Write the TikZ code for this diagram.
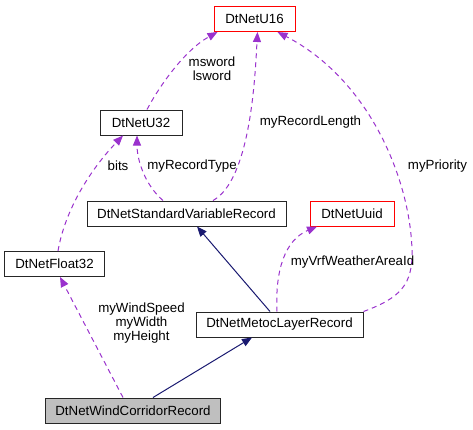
\documentclass[tikz,border=0pt]{standalone}
\usepackage{fontspec}
\setmainfont{Liberation Sans}
\usetikzlibrary{arrows.meta}
\definecolor{edgepurple}{HTML}{9A32CD}
\definecolor{edgenavy}{HTML}{191970}

\begin{document}
\begin{tikzpicture}[
        x=1pt, y=-1pt,
        font=\fontsize{13.3}{14}\selectfont,
        box/.style={
            draw,
            rectangle,
            text centered,
            minimum height=25pt,
            inner sep=2pt,
            line width=1pt,
            draw=black!85,
            fill=white
        },
        redbox/.style={
            box,
            draw=red
        },
        usage/.style={
            -{Triangle[length=10pt,width=8pt]},
            edgepurple,
            line width=1pt,
            dash pattern=on 5pt off 4pt
        },
        inherit/.style={
            -{Triangle[length=10pt,width=8pt]},
            edgenavy,
            line width=1pt
        },
        edgelabel/.style={
            align=center,
            inner sep=0pt
        }
    ]
        \useasboundingbox (0,0) rectangle (473,429);
        \node (u16) [redbox, minimum width=81pt] at (254.5,19) {DtNetU16};
        \node (u32) [box, minimum width=82pt] at (141,122.5) {DtNetU32};
        \node (stdrec) [box, minimum width=199pt] at (186.5,213.5) {DtNetStandardVariableRecord};
        \node (uuid) [redbox, minimum width=84pt] at (352,213.5) {DtNetUuid};
        \node (float32) [box, minimum width=100pt] at (54.5,264) {DtNetFloat32};
        \node (metoc) [box, minimum width=167pt] at (279.5,324.5) {DtNetMetocLayerRecord};
        \node (wind) [box, fill=gray!50, minimum width=175pt] at (133,410.5) {DtNetWindCorridorRecord};
        % members
        \draw[usage] ([xshift=6pt]u32.north) .. controls (160,85) and (185,50) .. ([xshift=-37pt]u16.south);
        \node (lblword) [edgelabel] at (212,69) {msword\\lsword};
        \draw[usage] ([xshift=26.5pt]stdrec.north) .. controls (250,180) and (255,80) .. ([xshift=3pt]u16.south);
        \node (lbllength) [edgelabel] at (310.5,122) {myRecordLength};
        \draw[usage] ([xshift=-23.5pt]stdrec.north) .. controls (145,185) and (137,160) .. ([xshift=-4pt]u32.south);
        \node (lbltype) [edgelabel] at (192,166) {myRecordType};
        \draw[usage] ([xshift=3.5pt]float32.north) .. controls (65,210) and (90,170) .. ([xshift=-18pt]u32.south);
        \node (lblbits) [edgelabel] at (118,166) {bits};
        \draw[usage] (metoc.north east) .. controls (400,298) and (413,285) .. (412,250)
            .. controls (410,180) and (370,80) .. ([xshift=23pt]u16.south);
        \node (lblprio) [edgelabel] at (437.5,166) {myPriority};
        \draw[usage] ([xshift=-2.5pt]metoc.north) .. controls (275,270) and (285,240) .. ([xshift=-35pt]uuid.south);
        \node (lblarea) [edgelabel] at (352.5,262.5) {myVrfWeatherAreaId};
        \draw[usage] ([xshift=-10pt]wind.north) -- ([xshift=5.5pt]float32.south);
        \node (lblwind) [edgelabel] at (141.5,323) {myWindSpeed\\myWidth\\myHeight};
        % base classes
        \draw[inherit] ([xshift=-9.5pt]metoc.north) -- ([xshift=10.5pt]stdrec.south);
        \draw[inherit] ([xshift=20pt]wind.north) -- ([xshift=-27.5pt]metoc.south);
    \end{tikzpicture}
\end{document}
